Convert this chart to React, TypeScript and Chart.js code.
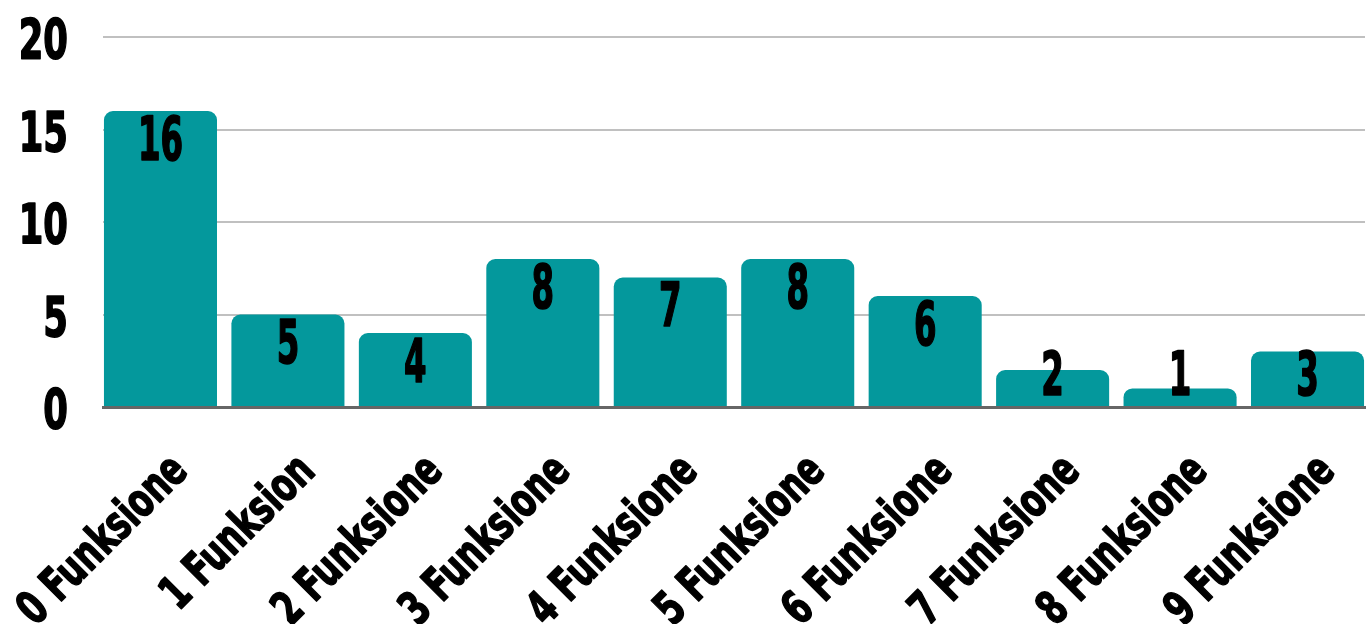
import React, { useEffect, useRef } from "react";
import { Chart, registerables } from "chart.js";

Chart.register(...registerables);

const categories = [
  "0 Funksione",
  "1 Funksion",
  "2 Funksione",
  "3 Funksione",
  "4 Funksione",
  "5 Funksione",
  "6 Funksione",
  "7 Funksione",
  "8 Funksione",
  "9 Funksione",
];
const values = [16, 5, 4, 8, 7, 8, 6, 2, 1, 3];
const yTicks = [0, 5, 10, 15, 20];

const FAMILY = "'Liberation Sans Narrow', 'DejaVu Sans Condensed', 'Roboto', sans-serif";
const BAR_COLOR = "#04989C";

function fitFont(ctx: CanvasRenderingContext2D, sample: string, capRef: string, capH: number, inkW: number) {
  ctx.font = `bold 100px ${FAMILY}`;
  const asc100 = ctx.measureText(capRef).actualBoundingBoxAscent;
  const size = (100 * capH) / asc100;
  const font = `bold ${size}px ${FAMILY}`;
  ctx.font = font;
  const m = ctx.measureText(sample);
  const w = m.actualBoundingBoxLeft + m.actualBoundingBoxRight;
  return { font, sx: inkW / w, cap: capH };
}

function boldText(ctx: CanvasRenderingContext2D, text: string, x: number, y: number) {
  ctx.fillText(text, x, y);
  ctx.lineWidth = 1.6;
  ctx.strokeStyle = "#000000";
  ctx.strokeText(text, x, y);
}

const textPlugin = {
  id: "customText",
  afterDatasetsDraw(chart: any) {
    const ctx: CanvasRenderingContext2D = chart.ctx;
    const x = chart.scales.x;
    const y = chart.scales.y;
    const meta = chart.getDatasetMeta(0);
    ctx.save();
    ctx.fillStyle = "#000000";
    ctx.lineJoin = "round";

    // y tick labels
    const yf = fitFont(ctx, "20", "0", 42, 45);
    ctx.font = yf.font;
    ctx.textAlign = "right";
    ctx.textBaseline = "alphabetic";
    yTicks.forEach((t) => {
      const py = y.getPixelForValue(t);
      ctx.save();
      ctx.translate(chart.chartArea.left - 35, py + yf.cap / 2);
      ctx.scale(yf.sx, 1);
      boldText(ctx, String(t), 0, 0);
      ctx.restore();
    });

    // bar value labels
    const bf = fitFont(ctx, "16", "0", 45, 40);
    ctx.font = bf.font;
    ctx.textAlign = "center";
    const base = y.getPixelForValue(0);
    meta.data.forEach((bar: any, i: number) => {
      const cy = Math.min(bar.y + 26, base - 35);
      ctx.save();
      ctx.translate(bar.x, cy + bf.cap / 2);
      ctx.scale(bf.sx, 1);
      boldText(ctx, String(values[i]), 0, 0);
      ctx.restore();
    });

    // x category labels (rotated)
    const xf = fitFont(ctx, categories[0], "F", 34, 215);
    ctx.font = xf.font;
    ctx.textAlign = "right";
    categories.forEach((c, i) => {
      const px = x.getPixelForValue(i);
      ctx.save();
      ctx.translate(px + 17, base + 54);
      ctx.rotate(-Math.PI / 4);
      ctx.scale(xf.sx, 1);
      boldText(ctx, c, 0, xf.cap / 2);
      ctx.restore();
    });
    ctx.restore();
  },
};

export default function App() {
  const ref = useRef<HTMLCanvasElement | null>(null);
  useEffect(() => {
    if (!ref.current) return;
    const chart = new Chart(ref.current, {
      type: "bar",
      data: {
        labels: categories,
        datasets: [
          {
            data: values.map((v, i) => ({ x: i, y: v })),
            backgroundColor: BAR_COLOR,
            borderRadius: { topLeft: 9, topRight: 9, bottomLeft: 0, bottomRight: 0 },
            borderSkipped: false,
            barPercentage: 0.887,
            categoryPercentage: 1,
          },
        ],
      },
      options: {
        animation: false,
        responsive: true,
        maintainAspectRatio: false,
        layout: { padding: { top: 37, left: 103, right: 6, bottom: 217 } },
        plugins: { legend: { display: false }, tooltip: { enabled: false } },
        scales: {
          x: {
            type: "linear",
            min: -0.451,
            max: 9.451,
            offset: false,
            ticks: { display: false },
            grid: { display: false, drawTicks: false },
            border: { display: true, color: "#666666", width: 3 },
          },
          y: {
            min: 0,
            max: 20,
            ticks: { display: false, stepSize: 5 },
            grid: { color: "#c0c0c0", lineWidth: 2, drawTicks: false },
            border: { display: false },
          },
        },
      },
      plugins: [textPlugin],
    });
    return () => chart.destroy();
  }, []);
  return (
    <div style={{ position: "fixed", left: 0, top: 0, width: "100vw", height: "100vh", background: "#ffffff" }}>
      <canvas ref={ref} />
    </div>
  );
}
